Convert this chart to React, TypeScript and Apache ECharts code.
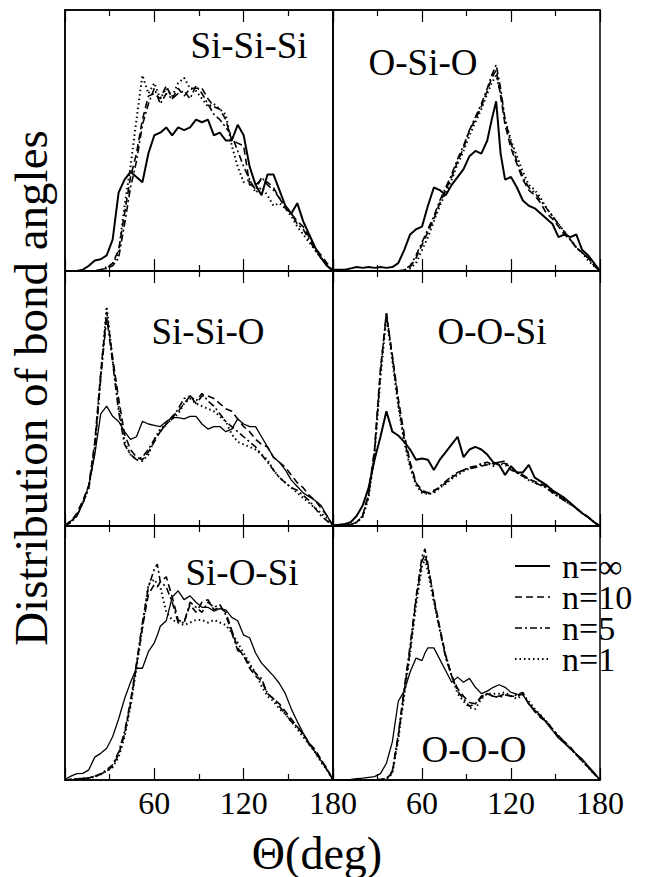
import React, { useEffect, useRef } from "react";
import * as echarts from "echarts";

const FONT = "Liberation Serif";

// ---- angle grids (deg) ----
const ANG_4 = [0,4,8,12,16,20,24,28,32,36,40,44,48,52,56,60,64,68,72,76,80,84,88,92,96,100,104,108,112,116,120,124,128,132,136,140,144,148,152,156,160,164,168,172,176,180];
const ANG_TR = [0,4,8,12,16,20,24,28,32,36,40,44,48,52,56,60,64,68,72,76,80,84,88,92,96,100,104,107,110,113,116,120,124,128,132,136,140,144,148,152,156,160,164,168,172,176,180];
const ANG_62 = [0,4,8,12,16,20,24,28,32,36,40,44,48,52,56,60,62,64,68,72,76,80,84,88,92,96,100,104,108,112,116,120,124,128,132,136,140,144,148,152,156,160,164,168,172,176,180];

// ---- Si-Si-Si ----
const TL_INF = [0,0,0,0.5,2,4,4.5,6,12,30,35,38,36,34,45,52,53,55,52,55,54,55,58,57,58,52,53,50,50,56,52,40,33,29,37,37,31,25,22,26,19,14,9,5,2,0];
const TL_N10 = [0,0,0,0,0,0,0.5,1,3,8,22,36,45,58,67,68,66,71,66,70,67,70,70,70,66,63,62,58,50,49,48,33,33,35,34,32,28,24,22,19,17,13,9,6,3,0];
const TL_N5 = [0,0,0,0,0,0,0.5,1,2,5,18,32,42,56,64,70,64,68,66,68,69,66,71,68,64,60,58,55,52,46,40,35,31,36,33,31,28,25,22,18,16,12,8,5,2,0];
const TL_N1 = [0,0,0,0,0,0,0.5,1.5,2.5,7,25,40,58,75,68,72,66,70,67,72,74,70,69,66,63,64,62,60,48,40,34,35,30,32,29,25,26,24,21,17,14,11,8,5,2,0];

// ---- O-Si-O ----
const TR_INF = [0.5,0.5,0.5,1,1.5,1.2,1.5,1.2,1.5,1.2,1.5,3,8,14,16,17,25,32,31,29,33,36,39,44,46,45,50,58,65,45,35,36,32,27,25,24,22,20,18,13,14,13,14,8,6,3,0];
const TR_N10 = [0,0,0,0,0,0,0,0,0,0,0,0,0.3,1.5,5,10,15,20,26,31,36,42,47,54,58,63,69,74,77,67,56,47,41,35,31,29,26,22,20,17,14,12,9,7,5,2.5,0];
const TR_N5 = [0,0,0,0,0,0,0,0,0,0,0,0,0.5,2,6,11,16,21,27,32,37,43,48,54,59,64,70,75,79,70,58,49,42,36,32,30,27,24,21,18,15,12,9,7,5,2,0];
const TR_N1 = [0,0,0,0,0,0,0,0,0,0,0,0,0.3,1,3,8,13,19,25,30,35,41,46,52,57,62,68,72,75,68,58,50,44,38,33,31,28,24,21,18,15,12,9,7,4,2,0];

// ---- Si-Si-O ----
const ML_INF = [0.5,2,4,9,16,28,44,47,43,41,37,34,35,41,40,39.5,39,41,42.5,42.5,42,43,43,40,38,39,39,37,38,42,40,39,39,35,31,27,25,22,18,15.5,13,11.5,10,8,4,0];
const ML_N10 = [0,2,5,10,16,33,60,84,66,50,36,30,27,26,29,33,37,40,43,45,48,51,48,51,51,50,48,46,45,42,39,37,34,32,31,27,25,23,20,17,15,12,10,7,4,0];
const ML_N5 = [0,1.5,4,9,15,30,58,82,64,45,32,28,26,27,30,34,37,40,42,46,50,51,49,52,49,47,44,41,39,37,35,33,31,28,25,22,19,17,15,14,12,10,7,4,2,0];
const ML_N1 = [0,1.5,4,9,15,31,59,86,65,47,33,28,26,25.5,28,34,38,40,42,44,48,50,48,47,46,45,43,41,36,33,32,31,30,28,26,22,19,17,15,13,11,9,7,5,3,0];

// ---- O-O-Si ----
const MR_INF = [0.3,0.5,0.8,1.5,4,8,15,26,35,45,37,35.5,33,30,26,26.5,26,22,26,29,32,35,27,30,31,30,28,25,24,20,23.5,21,21,24,19,17.5,16,14,12.5,11,9,7,5,3.5,1.5,0];
const MR_N10 = [0,0,0.2,0.5,1.5,4,13,30,62,83,67,50,36,25,17,14,13,14,15,17,19,20.5,22,22.5,23,23.5,24,24.5,25,24.5,23,21,20,18.5,17.5,16.5,15.5,13.5,12,10.5,9,7,5,3.5,1.5,0];
const MR_N5 = [0,0,0.2,0.5,1.5,4,12,29,60,84,66,48,34,24,16.5,13.5,12.5,13.5,15.5,17.5,19.5,21,22,23,23.5,24.5,25,24,25,25.5,22,21,19.5,18.5,17,16,15,13,11.5,10,8.5,7,5,3.5,1.5,0];
const MR_N1 = [0,0,0.2,0.5,1.5,3.5,11,28,58,82,65,47,33,23,16,13,12.5,13,15,16.5,18.5,20,21.5,22.5,23,24,24.5,23.5,24.5,24,22.5,21,19.5,18,17,16,15,13,11.5,10,8.5,7,5,3.5,1.5,0];

// ---- Si-O-Si ----
const BL_INF = [0.3,1.5,2.5,2.6,4,9,10.5,12.5,17,24,32,38.5,44,44,50.5,54,57,60.5,62.7,72,74.5,71,72.5,70,68,68,66.5,67.5,67,64,62.7,57,56,50,46,43.5,41,38,34,28,23,18.5,14.5,11,7.5,4,0];
const BL_N10 = [0,0.2,0.4,0.6,0.8,1.5,2.3,3.5,5.5,10,18,30,45,60,73,77,76,78,80,72,63,62,69,66,70,71,67,68,66,59,52,49,44,41,39,34,32,30,27,24,21,18,14.5,12,8,4.5,0];
const BL_N5 = [0,0.2,0.4,0.6,0.8,1.5,2.5,4,6,11,19,31,46,62,76,83,85,78,76,70,62,62,70,68,66,70,68,69,65,58,51,49,45,42,40,34,32,29,26,23,21,18,14,11,8,4,0];
const BL_N1 = [0,0.2,0.4,0.6,0.8,1.2,2.2,3.5,5,9,17,29,44,60,77,79,77,76,66,63,62,61,62,63,63,62,63,62,61,58,54,50,46,42,37,33,31,28,26,23,20,17,14,11,7,4,0];

// ---- O-O-O ----
const BR_INF = [0,0,0,0.2,0.5,0.7,1,1.3,2.5,6.6,15,31,35,42.5,48,47,50,52,52,47.5,43,38.5,40.5,38.5,40,36.5,34,35,36.5,37.5,36.5,34.5,33.8,33.6,30,27.5,25.5,22.4,19.5,16.5,14.5,12.2,10.3,8.3,5.5,3,0];
const BR_N10 = [0,0,0,0,0,0,0,0,0.2,0.4,3,17,35,51,71,86,89,84,72,60,49,41,36,33,30.5,30,32.5,34,33,33,34,33,33,34,30,27,24.5,23,20,17,15,13,10,7.5,5,2.5,0];
const BR_N5 = [0,0,0,0,0,0,0,0,0.2,0.5,3.5,18,36,53,72,88,91,85,71,59,48,41,35,32,29,30,33,34,33,32.5,33.5,33,33.5,34.5,30,27,25,23,20,17.5,15,12.5,10,7.5,5,2.5,0];
const BR_N1 = [0,0,0,0,0,0,0,0,0.2,0.3,2.5,16,33,50,69,84,87,82,70,59,49,41,34,31,28.5,28,32,34,34,34,34.5,33,32,33.5,31,28,25.5,23,20,17,15,12.5,10,7.5,5,2.5,0];

const PANEL_LABELS = ["Si-Si-Si", "O-Si-O", "Si-Si-O", "O-O-Si", "Si-O-Si", "O-O-O"];
const LEGEND_LABELS = ["n=\u221E", "n=10", "n=5", "n=1"];
const X_TICKS = [60, 120, 180];
const X_TITLE = "\u0398(deg)";
const Y_TITLE = "Distribution of bond angles";

const PANEL_DATA = [
  { ang: ANG_4, s: [TL_INF, TL_N10, TL_N5, TL_N1] },
  { ang: ANG_TR, s: [TR_INF, TR_N10, TR_N5, TR_N1] },
  { ang: ANG_4, s: [ML_INF, ML_N10, ML_N5, ML_N1] },
  { ang: ANG_4, s: [MR_INF, MR_N10, MR_N5, MR_N1] },
  { ang: ANG_62, s: [BL_INF, BL_N10, BL_N5, BL_N1] },
  { ang: ANG_62, s: [BR_INF, BR_N10, BR_N5, BR_N1] },
];

// layout (pixels)
const COLS = [{ left: 65, width: 268 }, { left: 333, width: 267 }];
const ROWS = [{ top: 10, height: 261 }, { top: 271, height: 255 }, { top: 526, height: 254 }];
const LABEL_POS = [[249, 45], [423, 62], [208, 331], [492, 331], [242, 572], [474, 749]];
const SOLID_W = [2, 2, 1.3, 2, 1.3, 1.3];
const STYLES: any[] = [
  { type: "solid", width: 0, dash: [] },
  { type: [7, 4], width: 1.6, dash: [7, 4] },
  { type: [7, 3, 2, 3], width: 1.6, dash: [7, 3, 2, 3] },
  { type: [1.5, 3], width: 2, dash: [1.5, 3] },
];
const LEGEND_Y = [566, 597, 628, 659];

const boxStyle: any = { position: "absolute", left: 0, top: 0, width: 650, height: 877 };

export default function App() {
  const plotRef = useRef<HTMLDivElement>(null);
  const textRef = useRef<HTMLDivElement>(null);
  useEffect(() => {
    if (!plotRef.current || !textRef.current) return;
    const chart = echarts.init(plotRef.current, undefined, { renderer: "svg" });
    const grids: any[] = [];
    const xAxes: any[] = [];
    const yAxes: any[] = [];
    const series: any[] = [];
    const black = { color: "#000", width: 1.5 };
    PANEL_DATA.forEach((p, i) => {
      const row = Math.floor(i / 2);
      const col = i % 2;
      grids.push({
        left: COLS[col].left, width: COLS[col].width, top: ROWS[row].top, height: ROWS[row].height,
        show: true, borderColor: "#000", borderWidth: 1.5, backgroundColor: "transparent",
      });
      ["bottom", "top"].forEach((pos) => {
        xAxes.push({
          gridIndex: i, type: "value", min: 0, max: 180, interval: 60, position: pos,
          axisLine: { show: true, onZero: false, lineStyle: black },
          axisTick: { show: true, inside: true, length: 12, lineStyle: { color: "#000", width: 1.2 } },
          minorTick: { show: true, splitNumber: 2, length: 6, lineStyle: { color: "#000", width: 1.2 } },
          splitLine: { show: false }, minorSplitLine: { show: false },
          axisLabel: { show: false },
        });
      });
      yAxes.push({
        gridIndex: i, type: "value", min: 0, max: 100,
        axisLine: { show: true, lineStyle: black }, axisTick: { show: false },
        axisLabel: { show: false }, splitLine: { show: false },
      });
      p.s.forEach((arr, k) => {
        series.push({
          type: "line", xAxisIndex: 2 * i, yAxisIndex: i, silent: true,
          showSymbol: false, symbol: "none",
          data: p.ang.map((a, j) => [a, arr[j]]),
          lineStyle: { color: "#000", type: STYLES[k].type, width: k === 0 ? SOLID_W[i] : STYLES[k].width },
          z: 5 - k,
        });
      });
    });

    const lines: any[] = LEGEND_LABELS.map((_, k) => ({
      type: "line", z: 50,
      shape: { x1: 515, y1: LEGEND_Y[k], x2: 550, y2: LEGEND_Y[k] },
      style: k === 0
        ? { stroke: "#000", lineWidth: 2 }
        : { stroke: "#000", lineWidth: STYLES[k].width, lineDash: STYLES[k].dash },
    }));

    chart.setOption({
      animation: false,
      grid: grids,
      xAxis: xAxes,
      yAxis: yAxes,
      series,
      graphic: lines,
    });

    // text layer
    const texts = echarts.init(textRef.current, undefined, { renderer: "svg" });
    const graphic: any[] = [];
    const addText = (text: string, x: number, y: number, size: number, align: string, rotation = 0) => {
      graphic.push({
        type: "text", x, y, rotation,
        style: { text, fontFamily: FONT, fontSize: size, fill: "#000", align, verticalAlign: "middle" },
      });
    };
    PANEL_LABELS.forEach((t, i) => addText(t, LABEL_POS[i][0], LABEL_POS[i][1], 37, "center"));
    LEGEND_LABELS.forEach((t, k) => addText(t, 562, LEGEND_Y[k], 34, "left"));
    [4, 5].forEach((i) => {
      X_TICKS.forEach((v) => {
        const pt = chart.convertToPixel({ xAxisIndex: 2 * i, yAxisIndex: i } as any, [v, 0]) as number[];
        if (pt) addText(String(v), pt[0], pt[1] + 23, 32, "center");
      });
    });
    addText(X_TITLE, 317, 853, 46, "center");
    addText(Y_TITLE, 31, 388, 47, "center", Math.PI / 2);
    texts.setOption({ animation: false, graphic });

    return () => {
      texts.dispose();
      chart.dispose();
    };
  }, []);
  return (
    <div style={{ ...boxStyle, background: "#fff" }}>
      <div ref={plotRef} style={boxStyle} />
      <div ref={textRef} style={{ ...boxStyle, pointerEvents: "none" }} />
    </div>
  );
}
